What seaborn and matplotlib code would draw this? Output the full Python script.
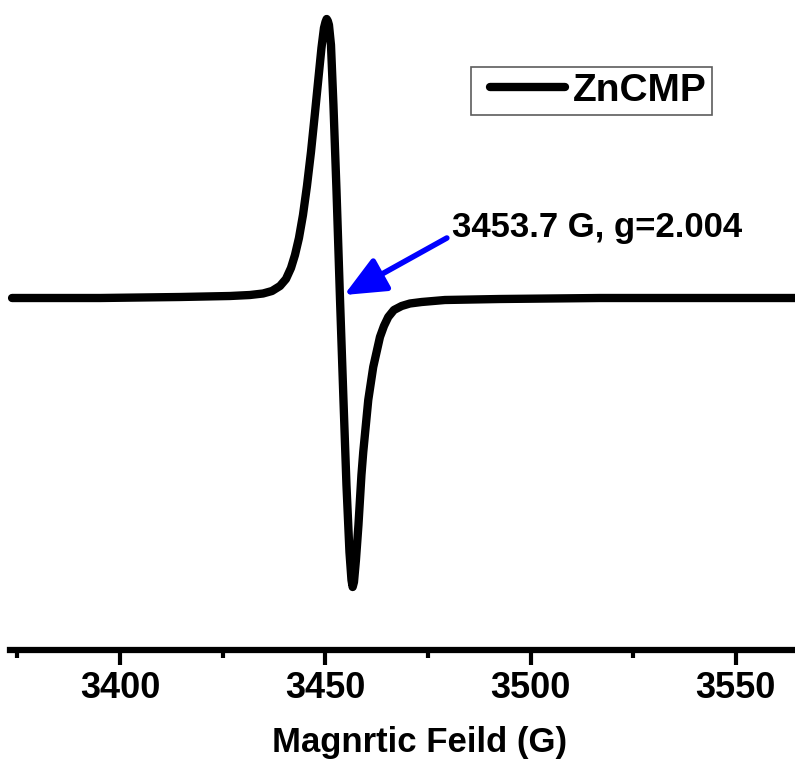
import matplotlib
matplotlib.use("Agg")
import matplotlib.pyplot as plt
from matplotlib.legend_handler import HandlerLine2D
import seaborn as sns
import pandas as pd

# Data (magnetic field in G, EPR signal in arbitrary units)
field = [3373.70, 3395.13, 3414.61, 3426.78, 3431.65, 3434.82, 3437.01, 3438.96,
         3440.42, 3441.64, 3442.61, 3443.58, 3444.56, 3445.53, 3446.51, 3447.48,
         3448.33, 3449.06, 3449.67, 3450.04, 3450.33, 3450.61, 3450.89, 3451.38,
         3451.98, 3452.72, 3453.57, 3454.42, 3455.15, 3455.88, 3456.37, 3456.66,
         3456.98, 3457.46, 3458.07, 3458.80, 3459.24, 3460.46, 3461.67, 3463.31,
         3464.28, 3465.33, 3466.71, 3468.59, 3470.61, 3473.46, 3479.13, 3492.52,
         3516.87, 3564.35]
signal = [0, 0, 1, 2, 3, 4.5, 7, 12,
          19, 30, 43, 60, 83, 112, 146, 185,
          220, 250, 270, 276, 279, 277, 273, 253,
          193, 108, 0, -102, -187, -254, -282, -289,
          -284, -262, -227, -177, -154, -102, -69, -39,
          -28, -19, -12, -8, -5.5, -4, -2, -1,
          0, 0]
series_name = "ZnCMP"
xticks_major = [3400, 3450, 3500, 3550]
xticks_minor = [3375, 3425, 3475, 3525]
annotation_text = "3453.7 G, g=2.004"
xlabel = "Magnrtic Feild (G)"

df = pd.DataFrame({"field": field, "signal": signal, "sample": series_name})

sns.set_theme(style="white")
plt.rcParams["font.family"] = ["Liberation Sans", "DejaVu Sans"]
plt.rcParams["font.weight"] = "bold"
plt.rcParams["text.color"] = "black"
plt.rcParams["xtick.color"] = "black"
plt.rcParams["axes.labelcolor"] = "black"

fig = plt.figure(figsize=(7.95, 7.62), dpi=100)
ax = fig.add_axes([10 / 795, 1 - 650 / 762, 785 / 795, 640 / 762])

sns.lineplot(data=df, x="field", y="signal", hue="sample", palette=["black"],
             sort=False, linewidth=6, ax=ax, legend=True, clip_on=False)
for ln in ax.get_lines():
    ln.set_solid_joinstyle("round")
    ln.set_solid_capstyle("round")

ax.set_xlim(3373.2, 3564.4)
ax.set_ylim(-352, 288)

for s in ["left", "top", "right"]:
    ax.spines[s].set_visible(False)
ax.spines["bottom"].set_linewidth(4.5)
ax.spines["bottom"].set_color("black")

ax.set_yticks([])
ax.set_xticks(xticks_major)
ax.set_xticks(xticks_minor, minor=True)
ax.tick_params(axis="x", which="major", direction="out", length=11, width=3,
               color="black", labelcolor="black", labelsize=26, pad=4, bottom=True)
ax.tick_params(axis="x", which="minor", direction="out", length=6, width=3,
               color="black", bottom=True)
for lbl in ax.get_xticklabels():
    lbl.set_fontweight("bold")

ax.set_xlabel(xlabel, fontsize=25, fontweight="bold", color="black")
ax.xaxis.set_label_coords((420 - 10) / 785, -0.118)
ax.set_ylabel("")

# arrow + annotation
ax.annotate("", xy=(3454.6, 3), xytext=(3479.6, 60),
            arrowprops=dict(arrowstyle="-|>,head_length=0.9,head_width=0.4",
                            color="#0000ff", lw=4, mutation_scale=28,
                            shrinkA=0, shrinkB=0))
ax.text(3480.8, 70, annotation_text, fontsize=25, fontweight="bold",
        ha="left", va="center", color="black")

handles, labels = ax.get_legend_handles_labels()
leg = ax.legend(handles, labels, loc="upper left",
                bbox_to_anchor=(471 / 795, 1 - 67 / 762),
                bbox_transform=fig.transFigure, frameon=True, fancybox=False,
                edgecolor="#333333", fontsize=28, handlelength=2.27,
                handletextpad=0.2, borderpad=0.15, borderaxespad=0,
                handler_map={h: HandlerLine2D(xpad=0.34) for h in handles})
leg.get_frame().set_linewidth(1.2)
for t in leg.get_texts():
    t.set_fontweight("bold")
    t.set_color("black")
for h in leg.get_lines():
    h.set_linewidth(6)

fig.savefig("out.png", dpi=100)
